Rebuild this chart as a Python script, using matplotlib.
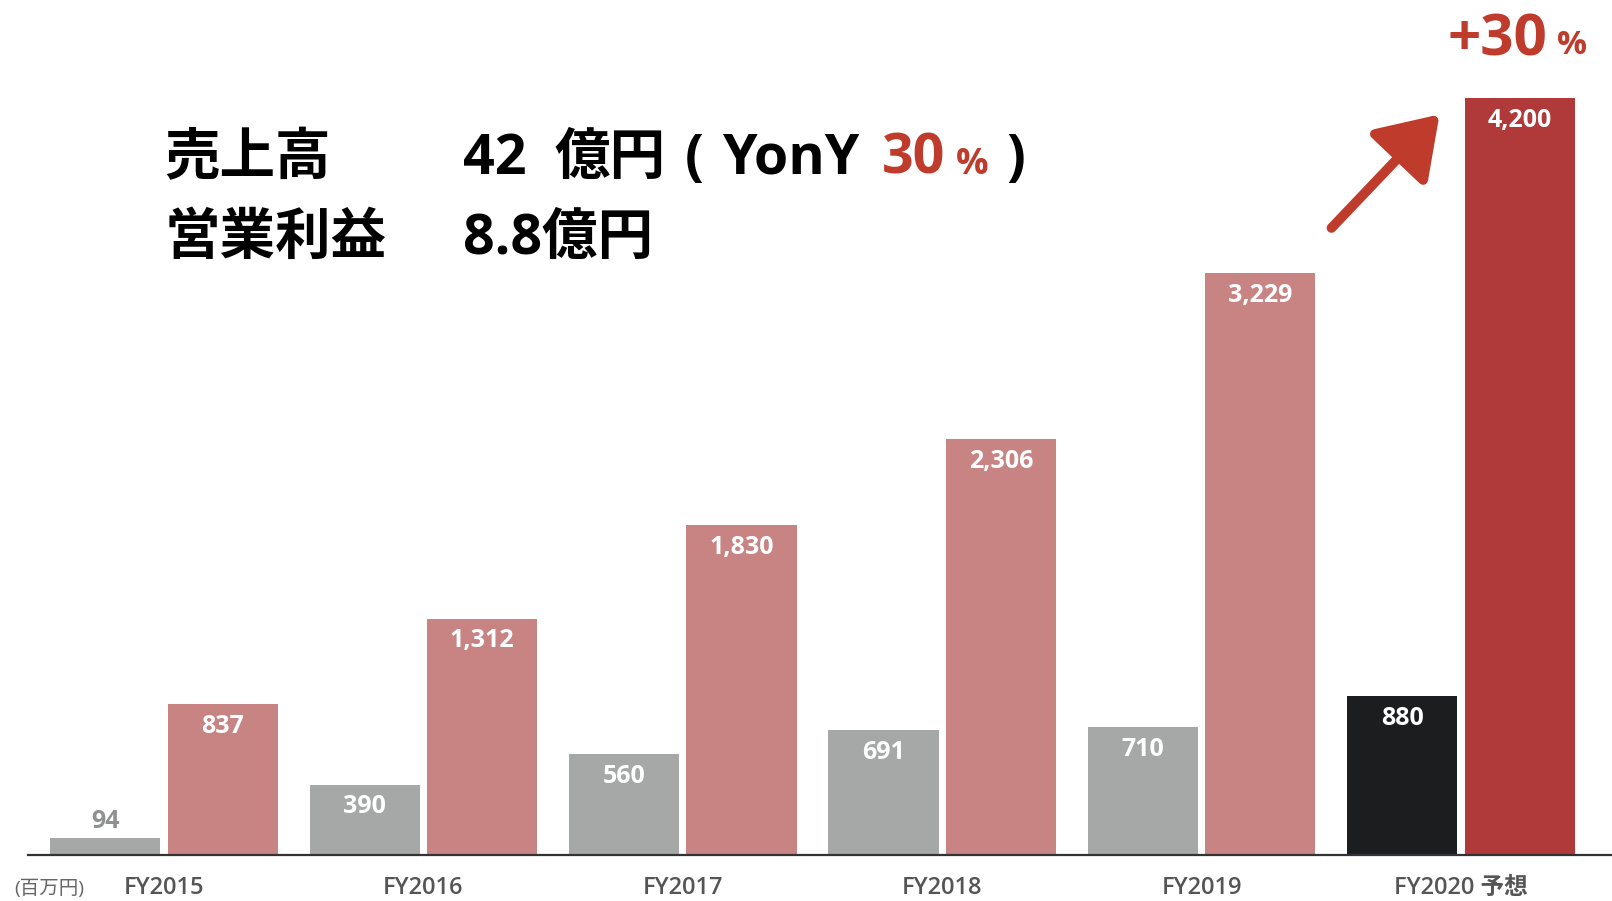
import numpy as np
import matplotlib
matplotlib.use("Agg")
from matplotlib import pyplot as plt

plt.rcParams['font.family'] = ['Open Sans', 'Noto Sans CJK JP', 'DejaVu Sans']

# data (百万円)
years = ['FY2015', 'FY2016', 'FY2017', 'FY2018', 'FY2019', 'FY2020 予想']
profit = [94, 390, 560, 691, 710, 880]
sales = [837, 1312, 1830, 2306, 3229, 4200]

gray = '#a6a7a7'
pink = '#c88383'
black = '#1c1d1f'
red = '#b0393a'
accent = '#bf3b2b'

fig = plt.figure(figsize=(16.12, 9.01), dpi=100)
ax = fig.add_axes([28 / 1612, 1 - 855 / 901, 1 - 28 / 1612, 855 / 901])

x = np.arange(len(years))
w = 0.425
off = 0.226
pcol = [gray] * (len(years) - 1) + [black]
scol = [pink] * (len(years) - 1) + [red]
b1 = ax.bar(x - off, profit, w, color=pcol)
b2 = ax.bar(x + off, sales, w, color=scol)

for bars, vals in ((b1, profit), (b2, sales)):
    for b, v in zip(bars, vals):
        if v > 200:
            ax.annotate(f'{v:,}', (b.get_x() + b.get_width() / 2, v), xytext=(0, -16),
                        textcoords='offset points', ha='center', va='center',
                        color='white', fontsize=18, fontweight='bold')
        else:
            # bar too short for a label inside
            ax.annotate(f'{v:,}', (b.get_x() + b.get_width() / 2, v), xytext=(0, 3),
                        textcoords='offset points', ha='center', va='bottom',
                        color='#8f9090', fontsize=18, fontweight='bold')

ax.set_xlim((28 - 164) / 259.4, (1612 - 164) / 259.4)
ax.set_ylim(0, 855 / 757 * 4200)
ax.set_xticks(x)
ax.set_xticklabels(years, fontsize=17, color='#555555', fontweight='semibold')
ax.tick_params(axis='x', length=0, pad=15)
ax.set_yticks([])
for s in ('top', 'left', 'right'):
    ax.spines[s].set_visible(False)
ax.spines['bottom'].set_color('#333333')
ax.spines['bottom'].set_linewidth(1.6)
ax.patch.set_alpha(0)

fig.text(49 / 1612, 1 - 889 / 901, '(百万円)', fontsize=14, color='#666666', ha='center', va='center')

# headline
big = dict(fontsize=40, fontweight='bold', va='center')
y1, y2 = 0.823, 0.734
fig.text(0.102, y1, '売上高', color='black', **big)
fig.text(0.102, y2, '営業利益', color='black', **big)
fig.text(0.287, y2, '8.8億円', color='black', **big)
fig.text(0.287, y1, '42', color='black', **big)
fig.text(0.344, y1, '億円', color='black', **big)
fig.text(0.425, y1, '(', color='black', **big)
fig.text(0.448, y1, 'YonY', color='black', **big)
fig.text(0.547, y1, '30', color=accent, **big)
fig.text(0.593, y1 - 0.006, '%', color=accent, fontsize=26, fontweight='bold', va='center')
fig.text(0.624, y1, ')', color='black', **big)

# +30 %
fig.canvas.draw()
r = fig.canvas.get_renderer()
t = fig.text(0.898, 0.955, '+30', color=accent, fontsize=42, fontweight='bold', va='center')
xe = t.get_window_extent(r).x1 / fig.bbox.width
fig.text(xe + 0.006, 0.950, '%', color=accent, fontsize=24, fontweight='bold', va='center')

ax.annotate('', xy=(0.893, 0.873), xytext=(0.826, 0.747), xycoords='figure fraction',
            textcoords='figure fraction',
            arrowprops=dict(arrowstyle='-|>,head_length=0.9,head_width=0.6', lw=7,
                            mutation_scale=40, color=accent, shrinkA=0, shrinkB=0))

fig.savefig('out.png', dpi=100, facecolor='white')
